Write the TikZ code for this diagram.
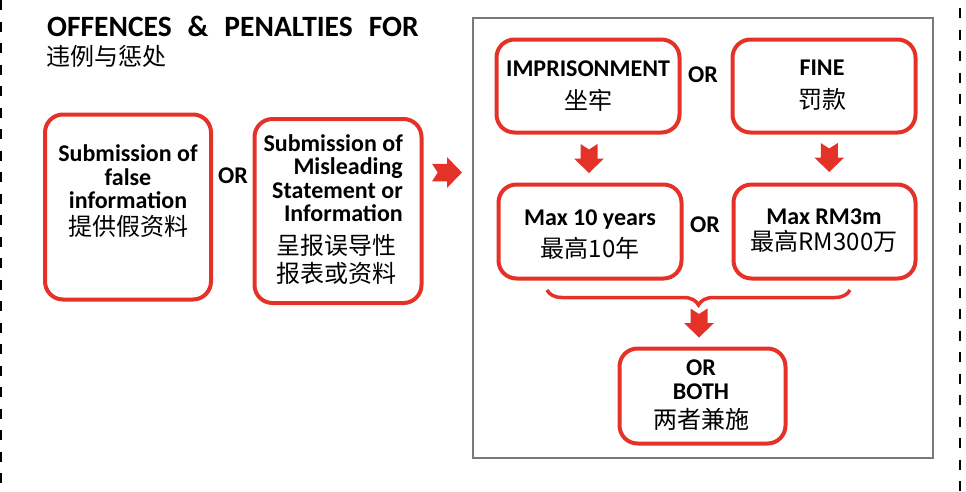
\documentclass[tikz,border=0pt]{standalone}
\usepackage{fontspec}
\usepackage{tikz}
\usepackage{xcolor}
\usetikzlibrary{calc,decorations.pathreplacing}
\setmainfont{Carlito}
\newfontfamily\cjk{Noto Sans CJK SC}

\definecolor{penred}{RGB}{228,50,40}
\definecolor{boxgray}{RGB}{120,120,125}

\tikzset{
  redbox/.style={draw=penred, line width=4pt, rounded corners=18pt, fill=white, inner sep=0pt},
  boxtext/.style={font=\fontsize{24}{23.5}\selectfont\bfseries, align=center, inner sep=0pt},
  ortext/.style={font=\fontsize{24}{24}\selectfont\bfseries, inner sep=0pt},
  dashline/.style={line width=2pt, dash pattern=on 10pt off 11.5pt},
  blockarrow/.pic={
    \fill[penred] (-8.5,14.5) -- (0,9) -- (8.5,14.5) -- (8.5,0) -- (15,0) -- (0,-14.5) -- (-15,0) -- (-8.5,0) -- cycle;
  }
}

\begin{document}
\begin{tikzpicture}[x=1pt,y=1pt,yscale=-1]
\useasboundingbox (0,0) rectangle (966,491);

%Straight Lines: cut marks
\draw[dashline] (1,0) -- (1,491);
\draw[dashline] (960,8) -- (960,491);

% Heading
\node[anchor=west, inner sep=0pt, font=\fontsize{29.5}{31}\selectfont\bfseries] (title) at (47,26) {\spaceskip=16pt OFFENCES \& PENALTIES FOR};
\node[anchor=west, inner sep=0pt, font=\cjk\fontsize{24}{26}\selectfont] (subtitle) at (46,56) {违例与惩处};

%Shape: offence boxes
\node[redbox, minimum width=166, minimum height=185] (false) at (128,207) {};
\node[redbox, minimum width=167, minimum height=184] (mislead) at (338,211) {};
\node[boxtext] (falsetxt) at (128,191) {Submission of\\false\\information\\[3pt]{\cjk\mdseries 提供假资料}};
\node[boxtext, align=right, anchor=east] (misleadtxt) at (403,178) {Submission of\\Misleading\\Statement or\\Information};
\node[boxtext, font=\cjk\fontsize{24}{28}\selectfont] (misleadcjk) at (336,259) {呈报误导性\\报表或资料};
\node[ortext] (or1) at (233,176) {OR};

\pic[scale=1.03, rotate=90] at (447,172.5) {blockarrow};

%Shape: penalties frame
\node[draw=boxgray, line width=1.5pt, minimum width=460, minimum height=440, inner sep=0pt] (penalties) at (703,238) {};

\node[redbox, minimum width=183, minimum height=93] (imp) at (588,86) {};
\node[redbox, minimum width=183, minimum height=93] (fine) at (824,86) {};
\node[redbox, minimum width=183, minimum height=94] (max10) at (590,231.5) {};
\node[redbox, minimum width=182, minimum height=94] (maxrm) at (824.5,231.5) {};
\node[redbox, minimum width=166, minimum height=95] (both) at (702.5,396) {};

% Text Node
\node[boxtext] (imptxt) at (588,86) {IMPRISONMENT\\[9pt]{\cjk\mdseries 坐牢}};
\node[boxtext] (finetxt) at (822,85) {FINE\\[10pt]{\cjk\mdseries 罚款}};
\node[boxtext] (max10txt) at (590,235) {Max 10 years\\[7pt]{\cjk\mdseries 最高10年}};
\node[boxtext] (maxrmtxt) at (824,230.5) {Max RM3m\\[3pt]{\cjk\mdseries 最高RM300万}};
\node[boxtext] (bothtxt) at (701,395.5) {OR\\BOTH\\[6pt]{\cjk\mdseries 两者兼施}};
\node[ortext] (or2) at (703,75) {OR};
\node[ortext] (or3) at (705,225) {OR};

\pic at ($(imp.south)!0.5!(max10.north)$) {blockarrow};
\pic at ($(fine.south)!0.5!(maxrm.north)+(5,-1)$) {blockarrow};

%Brace
\draw[penred, line width=3.5pt, decorate, decoration={brace, mirror, amplitude=15pt}] (547,290) -- (850,290);
\pic at (699,323) {blockarrow};

\end{tikzpicture}
\end{document}
